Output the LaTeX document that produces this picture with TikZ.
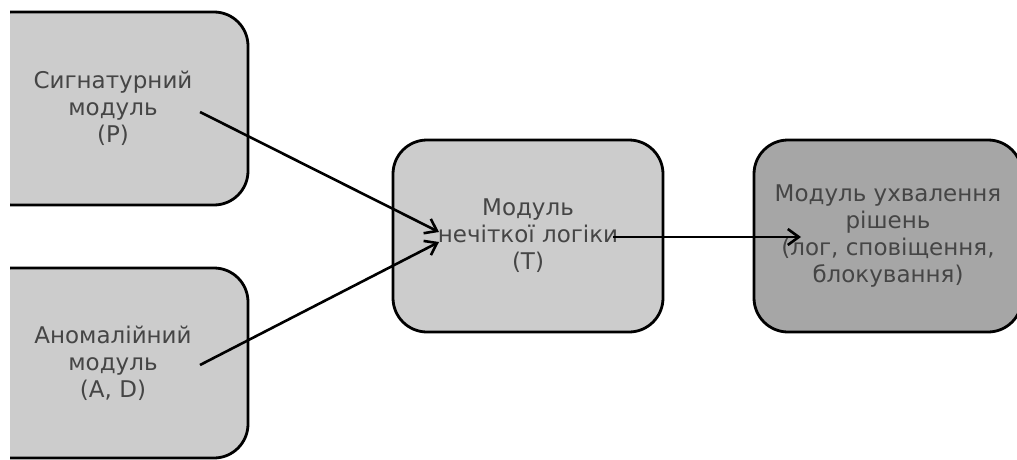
\documentclass[tikz,border=0pt]{standalone}
\usepackage{fontspec}
\setmainfont{DejaVu Sans}
\usetikzlibrary{arrows.meta}
\definecolor{boxlight}{HTML}{CCCCCC}
\definecolor{boxdark}{HTML}{A6A6A6}
\definecolor{txtgray}{HTML}{454545}
\tikzset{
  modbox/.style={draw=black, line width=2.8pt, rounded corners=34pt, fill=boxlight,
    text=txtgray, align=center, font=\fontsize{23}{27}\selectfont, inner sep=0pt},
  conn/.style={draw=black, line width=2.6pt, -{Straight Barb[length=11pt,width=16pt,line width=2.6pt]}}
}
\begin{document}
\begin{tikzpicture}[x=1pt,y=-1pt]
\useasboundingbox (0,0) rectangle (1017,460);
\clip (10,0) rectangle (1017,460);
\node[modbox, minimum width=270pt, minimum height=193pt] (sig) at (113,108.5) {Сигнатурний\\модуль\\(P)};
\node[modbox, minimum width=270pt, minimum height=190pt] (anom) at (113,363) {Аномалійний\\модуль\\(A, D)};
\node[modbox, minimum width=270pt, minimum height=192pt] (fuzzy) at (528,236) {Модуль\\нечіткої логіки\\(T)};
\node[modbox, fill=boxdark, minimum width=268pt, minimum height=192pt] (dec) at (888,236) {Модуль ухвалення\\рішень\\(лог, сповіщення,\\блокування)};
\coordinate (s1) at (200,112);
\coordinate (s2) at (200,365);
\coordinate (t1) at (439,232);
\coordinate (t2) at (439,242);
\coordinate (s3) at (613,237);
\coordinate (t3) at (801,237);
\draw[conn] (s1) -- (t1);
\draw[conn] (s2) -- (t2);
\draw[conn] (s3) -- (t3);
\end{tikzpicture}
\end{document}
